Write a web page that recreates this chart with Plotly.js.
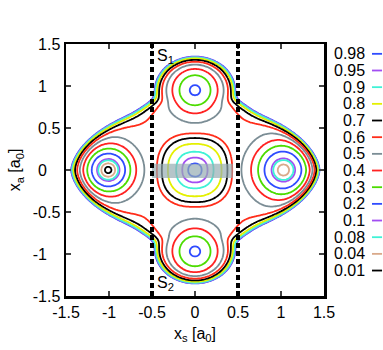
<!DOCTYPE html>
<html>
<head>
<meta charset="utf-8">
<script src="https://cdn.plot.ly/plotly-3.0.1.min.js"></script>
<style>
  html, body { margin: 0; padding: 0; background: #fff; }
  #plot { width: 383px; height: 350px; }
</style>
</head>
<body>
<div id="plot"></div>
<script>
// contour levels and their colours (as in the key)
var levels = [0.98, 0.95, 0.9, 0.8, 0.7, 0.6, 0.5, 0.4, 0.3, 0.2, 0.1, 0.08, 0.04, 0.01];
var levelLabels = ['0.98', '0.95', '0.9', '0.8', '0.7', '0.6', '0.5', '0.4', '0.3', '0.2', '0.1', '0.08', '0.04', '0.01'];
var levelColors = ['#2f4bff', '#a24ef2', '#3ff2d6', '#e4f000', '#000000', '#ff2d1a',
                   '#7b8d95', '#ff2222', '#4cdc00', '#2f4bff', '#a24ef2', '#3ff2d6', '#d9a98a', '#000000'];

// minima of the surface
var wellXs = [-1.01, 1.03, 0, 0];
var wellXa = [0, 0, 0.95, -0.97];
var wellFloor = [0, 0.02, 0.185, 0.185];
var wellWidth = [0.217, 0.255, 0.225, 0.225];

// ridge level between the wells and the central maximum
var moatLevel = 0.59;
var hillTop = 0.992;
var hillRadius = 0.46;

// outline of the 0.98 contour: side lobes, top/bottom lobes, middle disc
var sideLobeCenter = 0.55, sideLobeHalfWidth = 0.89, sideLobeHalfHeight = 0.70, sideLobePower = 1.6;
var lobeCenter = 0.95, lobeHalfWidth = 0.47, lobeHalfHeight = 0.4;
var discRadius = 0.97;
var wallValue = 0.47, wallScale = 0.05;

var dividers = [-0.5, 0.5];
var tickVals = [-1.5, -1, -0.5, 0, 0.5, 1, 1.5];
var xTickText = ['-1.5', '-1', '-0.5', '0', '0.5', '1', '1.5'];
var yTickText = ['-1.5', '-1\u00a0\u00a0\u00a0', '-0.5', '0\u00a0\u00a0\u00a0', '0.5', '1\u00a0\u00a0\u00a0', '1.5'];

function lobeDist(dx, dy, a, b, p) {
  var d = Math.pow(Math.pow(Math.abs(dx / a), p) + Math.pow(Math.abs(dy / b), p), 1 / p);
  return (d - 1) * Math.min(a, b);
}

function energy(x, y) {
  var v = moatLevel;
  for (var i = 0; i < wellXs.length; i++) {
    var dx = x - wellXs[i], dy = y - wellXa[i];
    v -= (moatLevel - wellFloor[i]) * Math.exp(-(dx * dx + dy * dy) / (2 * wellWidth[i] * wellWidth[i]));
  }
  var ax = Math.abs(x), ay = Math.abs(y);
  var rho = Math.pow(Math.pow(ax, 2.3) + Math.pow(ay, 2.3), 1 / 2.3);
  var h = (hillTop - moatLevel) * Math.max(0, 1 - (rho / hillRadius) * (rho / hillRadius));
  var parts = [
    lobeDist(ax - sideLobeCenter, y, sideLobeHalfWidth, sideLobeHalfHeight, sideLobePower),
    lobeDist(x, ay - lobeCenter, lobeHalfWidth, lobeHalfHeight, 2),
    Math.sqrt(x * x + y * y) - discRadius
  ];
  var k = 25, sum = 0;
  parts.forEach(function (p) { sum += Math.exp(-k * p); });
  var s = -Math.log(sum) / k;
  var w = wallValue * Math.exp(s / wallScale);
  return Math.min(v + h + w, 3);
}

var xs = [], xa = [];
for (var i = 0; i <= 150; i++) { xs.push(-1.5 + i * 0.02); xa.push(-1.5 + i * 0.02); }
var z = xa.map(function (b) { return xs.map(function (a) { return energy(a, b); }); });

var data = levels.map(function (lv, idx) {
  return {
    type: 'contour', x: xs, y: xa, z: z,
    autocontour: false,
    contours: { start: lv, end: lv, size: 1, coloring: 'none' },
    line: { color: levelColors[idx], width: 1.8, smoothing: 0.8 },
    showscale: false, showlegend: false, hoverinfo: 'skip'
  };
});

var shapes = [{
  type: 'rect', xref: 'x', yref: 'y', x0: -0.5, x1: 0.44, y0: -0.095, y1: 0.075,
  fillcolor: 'rgba(150,172,178,0.7)', line: { width: 0 }, layer: 'above'
}];
dividers.forEach(function (d) {
  shapes.push({ type: 'line', xref: 'x', yref: 'paper', x0: d, x1: d, y0: 0, y1: 1,
    line: { color: '#000', width: 4, dash: '5px,3px' }, layer: 'above' });
});

var annotations = [
  { x: -0.47, y: 1.35, xref: 'x', yref: 'y', text: 'S<sub>1</sub>', showarrow: false, xanchor: 'left', yanchor: 'middle', font: { size: 16 } },
  { x: -0.47, y: -1.35, xref: 'x', yref: 'y', text: 'S<sub>2</sub>', showarrow: false, xanchor: 'left', yanchor: 'middle', font: { size: 16 } }
];

// key on the right: label then a short line
var keyTop = 0.961, keyStep = 16.67 / 252;
levels.forEach(function (lv, idx) {
  var yy = keyTop - idx * keyStep;
  annotations.push({ x: 1.167, y: yy, xref: 'paper', yref: 'paper', text: levelLabels[idx],
    showarrow: false, xanchor: 'right', yanchor: 'middle', font: { size: 16 } });
  shapes.push({ type: 'line', xref: 'paper', yref: 'paper', x0: 1.186, x1: 1.225, y0: yy, y1: yy,
    line: { color: levelColors[idx], width: 1.8 } });
});

var axisCommon = {
  range: [-1.5, 1.5], tickvals: tickVals, ticks: 'inside', ticklen: 5, tickwidth: 2,
  showline: true, linewidth: 2.5, linecolor: '#000', mirror: 'ticks',
  showgrid: false, zeroline: false, fixedrange: true, tickfont: { size: 16, color: '#000' }
};

var layout = {
  width: 383, height: 350,
  margin: { l: 66, r: 59, t: 44, b: 54 },
  paper_bgcolor: '#fff', plot_bgcolor: '#fff',
  font: { family: 'Liberation Sans, Arial, sans-serif', color: '#000' },
  hovermode: false, showlegend: false,
  xaxis: Object.assign({}, axisCommon, {
    ticktext: xTickText,
    title: { text: 'x<sub>s</sub> [a<sub>0</sub>]', font: { size: 16 }, standoff: 8 }
  }),
  yaxis: Object.assign({}, axisCommon, {
    ticktext: yTickText,
    title: { text: 'x<sub>a</sub> [a<sub>0</sub>]', font: { size: 16 }, standoff: 8 }
  }),
  shapes: shapes,
  annotations: annotations
};

Plotly.newPlot('plot', data, layout, { displayModeBar: false, staticPlot: true });
</script>
</body>
</html>
